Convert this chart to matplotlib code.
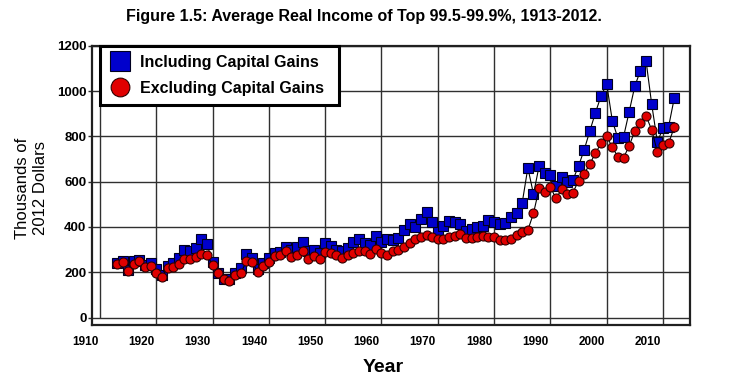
import matplotlib
matplotlib.use('Agg')
import matplotlib.pyplot as plt
from matplotlib import font_manager
from matplotlib.lines import Line2D
from matplotlib.transforms import ScaledTranslation

years = list(range(1913, 2013))
incl = [240, 248, 210, 249, 254, 232, 242, 213, 188, 227,
        242, 261, 298, 295, 305, 345, 323, 246, 198, 170,
        168, 195, 217, 280, 261, 213, 242, 261, 286, 291,
        313, 298, 313, 333, 292, 298, 285, 327, 316, 298,
        294, 305, 335, 345, 330, 320, 360, 332, 345, 342,
        350, 386, 411, 401, 433, 466, 423, 379, 404, 428,
        423, 411, 383, 391, 398, 402, 430, 423, 413, 419,
        442, 463, 507, 661, 545, 669, 639, 629, 581, 619,
        600, 607, 669, 740, 823, 904, 978, 1031, 869, 791,
        798, 909, 1022, 1090, 1132, 941, 776, 835, 843, 968]
excl = [236, 246, 207, 238, 249, 224, 227, 195, 180, 217,
        224, 238, 257, 260, 269, 280, 277, 230, 195, 169,
        163, 186, 196, 248, 246, 201, 227, 245, 272, 276,
        292, 268, 274, 295, 260, 272, 260, 291, 283, 276,
        264, 274, 286, 295, 295, 280, 301, 283, 277, 294,
        298, 313, 327, 345, 354, 364, 354, 348, 348, 357,
        360, 367, 350, 350, 354, 358, 357, 354, 342, 342,
        348, 363, 379, 386, 460, 570, 556, 575, 526, 566,
        544, 551, 604, 634, 678, 725, 769, 801, 751, 710,
        706, 757, 825, 857, 890, 828, 732, 762, 769, 840]
decades = list(range(1910, 2020, 10))
yticks = [0, 200, 400, 600, 800, 1000, 1200]
labels = ['Including Capital Gains', 'Excluding Capital Gains']


def pick(name, fallback):
    try:
        font_manager.findfont(name, fallback_to_default=False)
        return name
    except Exception:
        return fallback


font = pick('Liberation Sans', 'DejaVu Sans')

fig = plt.figure(figsize=(7.3, 3.86), dpi=100)
ax = fig.add_axes([92 / 730, 1 - 325 / 386, 598 / 730, (325 - 45.7) / 386])
ax.set_xlim(1908.58, 2014.8)
ax.set_ylim(-33, 1200)

gcol = '#303030'
ax.set_yticks(yticks)
ax.grid(axis='y', color=gcol, lw=1.0, zorder=0)
ax.set_axisbelow(True)
ax.vlines(decades[1:], -33, 1200, color=gcol, lw=1.0, zorder=0.5)
ax.vlines(decades[0], 0, 1200, color=gcol, lw=1.0, zorder=0.5)

for s in ax.spines.values():
    s.set_color('#202020')
    s.set_linewidth(1.6)

ax.set_xticks(decades)
ax.tick_params(axis='x', length=0, pad=8)
ax.tick_params(axis='y', length=3, width=1.0, pad=1, color=gcol)
for lab in ax.get_xticklabels():
    lab.set_fontproperties(dict(family=font, weight='bold', size=8.5))
    lab.set_transform(lab.get_transform() + ScaledTranslation(-15 / 100, 0, fig.dpi_scale_trans))
for lab in ax.get_yticklabels():
    lab.set_fontproperties(dict(family=font, weight='bold', size=9.5))

blue = '#0000CC'
red = '#E00000'
ax.plot(years, incl, color='black', lw=0.8, marker='s', ms=7, mfc=blue,
        mec='#000020', mew=0.8, zorder=3)
ax.plot(years, excl, color='black', lw=0.8, marker='o', ms=6.5, mfc=red,
        mec='#300000', mew=0.8, zorder=4)

handles = [Line2D([], [], ls='none', marker='s', ms=14, mfc=blue, mec='#000020', mew=0.8),
           Line2D([], [], ls='none', marker='o', ms=13.5, mfc=red, mec='#300000', mew=0.8)]
leg = ax.legend(handles, labels, loc='upper left',
                bbox_to_anchor=(8 / 598, 1.0, 239 / 598, 0), mode='expand',
                borderaxespad=0, fancybox=False, edgecolor='black', framealpha=1,
                prop=dict(family=font, weight='bold', size=11.5),
                handlelength=1.4, handletextpad=0.5, labelspacing=0.68, borderpad=0.58)
leg.get_frame().set_linewidth(2.2)
leg.set_zorder(10)

fig.text(31.5 / 730, 1 - 188 / 386, 'Thousands of\n2012 Dollars', rotation=90,
         ha='center', va='center', multialignment='center',
         family=font, fontsize=12)
fig.text(383 / 730, 1 - 368 / 386, 'Year', ha='center', va='center',
         family=font, fontsize=14, weight='bold')
fig.text(364 / 730, 1 - 17 / 386,
         'Figure 1.5: Average Real Income of Top 99.5-99.9%, 1913-2012.',
         ha='center', va='center', family=font, fontsize=11.5, weight='bold')

fig.savefig('out.png', dpi=100)
